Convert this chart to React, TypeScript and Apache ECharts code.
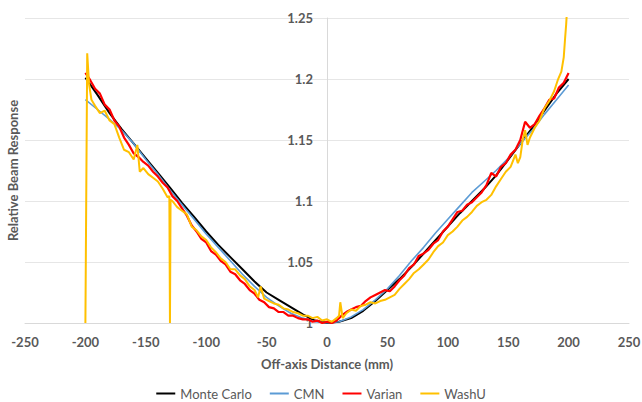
import React, { useEffect, useRef } from "react";
import * as echarts from "echarts";

// Monte Carlo and CMN: sampled every 10 mm
const mcX = [-200, -190, -180, -170, -160, -150, -140, -130, -120, -110, -100, -90, -80, -70, -60, -50, -40, -30, -20, -10, 0,
  10, 20, 30, 40, 50, 60, 70, 80, 90, 100, 110, 120, 130, 140, 150, 160, 170, 180, 190, 200];
const mcY = [1.201, 1.187, 1.172, 1.159, 1.147, 1.135, 1.123, 1.111, 1.0985, 1.087, 1.075, 1.064, 1.054, 1.044, 1.034, 1.025, 1.019, 1.013, 1.007, 1.002, 1.000,
  1.001, 1.004, 1.010, 1.018, 1.027, 1.036, 1.046, 1.057, 1.068, 1.079, 1.090, 1.100, 1.110, 1.121, 1.134, 1.147, 1.160, 1.174, 1.188, 1.200];

const cmnX = mcX;
const cmnY = [1.183, 1.175, 1.167, 1.158, 1.147, 1.134, 1.122, 1.109, 1.097, 1.085, 1.073, 1.062, 1.051, 1.040, 1.030, 1.021, 1.014, 1.008, 1.004, 1.001, 1.000,
  1.001, 1.005, 1.011, 1.019, 1.028, 1.039, 1.051, 1.062, 1.074, 1.085, 1.096, 1.107, 1.116, 1.125, 1.135, 1.147, 1.158, 1.171, 1.183, 1.195];

// Varian: sampled every 4 mm
const varianX = [-200, -196, -192, -188, -184, -180, -176, -172, -168, -164, -160, -156, -152, -148, -144, -140, -136, -132, -128, -124,
  -120, -116, -112, -108, -104, -100, -96, -92, -88, -84, -80, -76, -72, -68, -64, -60, -56, -52, -48, -44,
  -40, -36, -32, -28, -24, -20, -16, -12, -8, -4, 0, 4, 8, 12, 16, 20, 24, 28, 32, 36,
  40, 44, 48, 52, 56, 60, 64, 68, 72, 76, 80, 84, 88, 92, 96, 100, 104, 108, 112, 116,
  120, 124, 128, 132, 136, 140, 144, 148, 152, 156, 160, 164, 168, 172, 176, 180, 184, 188, 192, 196, 200];
const varianY = [1.205, 1.199, 1.192, 1.188, 1.179, 1.175, 1.166, 1.161, 1.152, 1.146, 1.139, 1.136, 1.132, 1.129, 1.124, 1.120, 1.115, 1.111, 1.104, 1.100,
  1.094, 1.088, 1.080, 1.075, 1.069, 1.066, 1.059, 1.056, 1.051, 1.048, 1.042, 1.040, 1.035, 1.032, 1.027, 1.024, 1.019, 1.017, 1.013, 1.012,
  1.009, 1.009, 1.006, 1.006, 1.004, 1.003, 1.003, 1.001, 1.002, 1.000, 1.001, 1.000, 1.002, 1.006, 1.009, 1.011, 1.013, 1.014, 1.018, 1.021,
  1.023, 1.025, 1.027, 1.026, 1.030, 1.035, 1.039, 1.045, 1.048, 1.055, 1.057, 1.060, 1.065, 1.068, 1.075, 1.079, 1.085, 1.091, 1.092, 1.097,
  1.099, 1.103, 1.107, 1.113, 1.123, 1.120, 1.128, 1.131, 1.138, 1.142, 1.150, 1.165, 1.160, 1.163, 1.170, 1.176, 1.183, 1.184, 1.193, 1.197, 1.205];

// WashU: irregular samples (spikes kept)
const washX = [-200, -198.5, -197, -195, -192, -188, -184, -180, -176, -172, -168, -164, -160, -157, -155, -152, -148, -144, -140, -136,
  -132, -130.5, -130, -129.5, -128, -124, -120, -116, -112, -108, -104, -100, -96, -92, -88, -84, -80, -76, -72, -68,
  -64, -60, -57, -55, -52, -48, -44, -40, -36, -32, -28, -24, -20, -16, -12, -8, -4, 0, 4, 8,
  10, 11, 13, 16, 20, 24, 28, 32, 36, 40, 44, 48, 52, 56, 60, 64, 68, 72, 76, 80,
  84, 88, 92, 96, 100, 104, 108, 112, 116, 120, 124, 128, 132, 136, 140, 144, 148, 152, 156, 158,
  160, 162, 164, 166, 168, 172, 176, 180, 184, 188, 191, 194, 196, 197, 198, 199, 200];
const washY = [1.000, 1.221, 1.196, 1.183, 1.178, 1.172, 1.174, 1.166, 1.163, 1.152, 1.142, 1.140, 1.134, 1.146, 1.124, 1.127, 1.122, 1.119, 1.116, 1.110,
  1.103, 1.104, 1.000, 1.101, 1.100, 1.095, 1.092, 1.089, 1.079, 1.076, 1.071, 1.068, 1.062, 1.058, 1.053, 1.050, 1.044, 1.044, 1.039, 1.036,
  1.030, 1.027, 1.021, 1.030, 1.020, 1.018, 1.016, 1.015, 1.012, 1.011, 1.009, 1.008, 1.006, 1.006, 1.004, 1.005, 1.002, 1.003, 1.001, 1.004,
  1.006, 1.017, 1.004, 1.008, 1.011, 1.010, 1.014, 1.015, 1.017, 1.016, 1.018, 1.019, 1.021, 1.023, 1.028, 1.032, 1.036, 1.041, 1.044, 1.048,
  1.052, 1.058, 1.063, 1.066, 1.072, 1.075, 1.079, 1.084, 1.087, 1.091, 1.096, 1.099, 1.101, 1.105, 1.112, 1.118, 1.124, 1.128, 1.138, 1.131,
  1.136, 1.150, 1.158, 1.146, 1.152, 1.160, 1.166, 1.176, 1.182, 1.190, 1.199, 1.206, 1.218, 1.232, 1.245, 1.262, 1.280];

const seriesNames = ["Monte Carlo", "CMN", "Varian", "WashU"];
const seriesColors = ["#000000", "#5B9BD5", "#FF0000", "#FFC000"];

const pairs = (xs: number[], ys: number[]) => xs.map((x, i) => [x, ys[i]]);

export default function App() {
  const ref = useRef<HTMLDivElement>(null);
  useEffect(() => {
    document.body.style.margin = "0";
    const chart = echarts.init(ref.current!, null, { renderer: "svg" });
    const text = "#595959";
    const font = "Lato";
    const datasets = [pairs(mcX, mcY), pairs(cmnX, cmnY), pairs(varianX, varianY), pairs(washX, washY)];
    const widths = [2, 1.6, 2.2, 2];
    const gridLeft = 25;
    const gridRight = 13;
    const plotWidth = 642 - gridLeft - gridRight;
    chart.setOption({
      animation: false,
      backgroundColor: "#ffffff",
      textStyle: { fontFamily: font },
      grid: { left: gridLeft, right: gridRight, top: 18, bottom: 79, containLabel: false, outerBoundsMode: "none" },
      legend: {
        top: 382,
        left: "center",
        icon: "rect",
        itemWidth: 19,
        itemHeight: 2,
        itemGap: 18,
        textStyle: { color: text, fontSize: 13, fontFamily: font },
        data: seriesNames,
      },
      xAxis: {
        type: "value",
        min: -250,
        max: 250,
        interval: 50,
        name: "Off-axis Distance (mm)",
        nameLocation: "middle",
        nameGap: 34,
        nameTextStyle: { color: text, fontWeight: "bold", fontSize: 13, fontFamily: font },
        axisLine: { show: true, onZero: false, lineStyle: { color: "#d9d9d9", width: 1 } },
        axisTick: { show: false },
        axisLabel: { margin: 12, color: text, fontWeight: "bold", fontSize: 13, fontFamily: font },
        splitLine: { show: false },
      },
      yAxis: {
        type: "value",
        min: 1,
        max: 1.25,
        interval: 0.05,
        // vertical axis crosses the horizontal axis at distance 0 (centre of the -250..250 range)
        offset: -plotWidth / 2,
        name: "Relative Beam Response",
        nameLocation: "middle",
        nameGap: 308,
        nameRotate: 90,
        nameTextStyle: { color: text, fontWeight: "bold", fontSize: 13, fontFamily: font },
        axisLine: { show: true, onZero: false, lineStyle: { color: "#d9d9d9", width: 1 } },
        axisTick: { show: false },
        axisLabel: { margin: 14, color: text, fontWeight: "bold", fontSize: 13, fontFamily: font },
        splitLine: { show: true, lineStyle: { color: "#e6e6e6", width: 1 } },
      },
      series: seriesNames.map((name, i) => ({
        name,
        type: "line",
        data: datasets[i],
        showSymbol: false,
        symbol: "none",
        clip: true,
        color: seriesColors[i],
        lineStyle: { color: seriesColors[i], width: widths[i] },
      })),
    });
    return () => chart.dispose();
  }, []);
  return <div ref={ref} style={{ position: "absolute", left: 0, top: 0, width: 642, height: 402 }} />;
}
